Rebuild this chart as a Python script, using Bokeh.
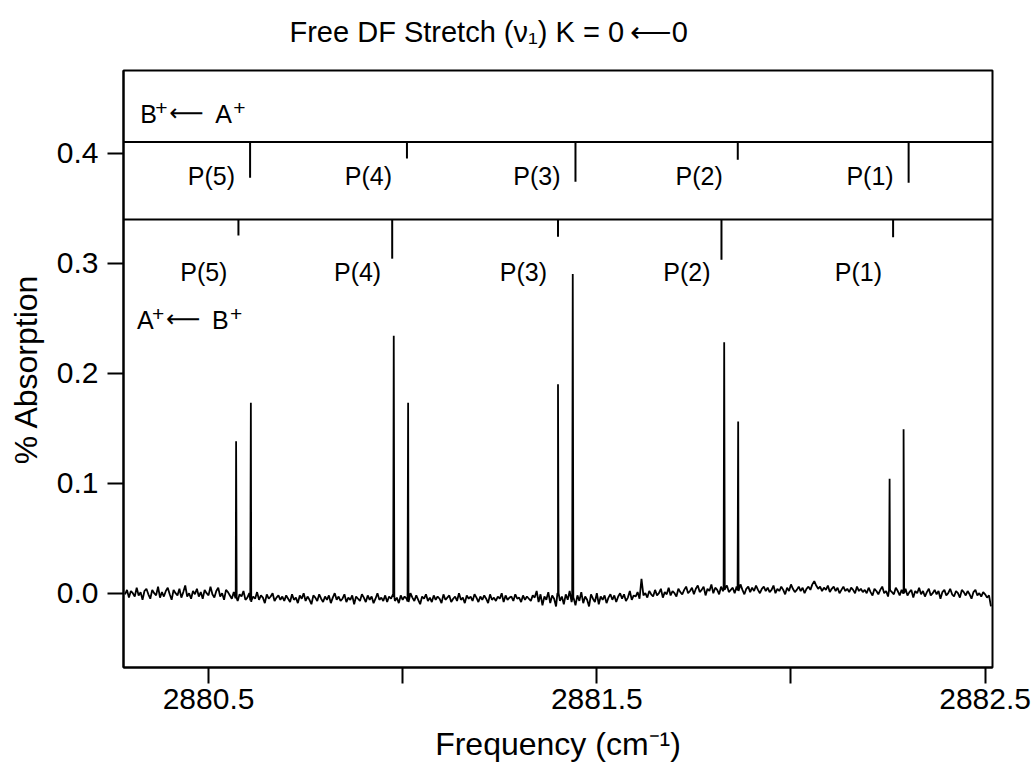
import numpy as np
from bokeh.plotting import figure
from bokeh.models import Label, Span, FixedTicker, Range1d, PrintfTickFormatter, Title
from bokeh.embed import file_html
from bokeh.resources import INLINE

# ---------------- data ----------------
branches = ["P(5)", "P(4)", "P(3)", "P(2)", "P(1)"]

# A+ <- B+ lines (lower member of each doublet), cm^-1 and % absorption
ab_freq = [2880.571, 2880.977, 2881.400, 2881.828, 2882.254]
ab_height = [0.138, 0.234, 0.190, 0.228, 0.104]
# B+ <- A+ lines (upper member of each doublet)
ba_freq = [2880.609, 2881.014, 2881.438, 2881.864, 2882.290]
ba_height = [0.173, 0.173, 0.290, 0.156, 0.149]

# predicted line positions (stick markers) and where each stick ends
ba_stick_freq = [2880.607, 2881.011, 2881.445, 2881.863, 2882.303]
ba_stick_end = [0.3775, 0.395, 0.374, 0.394, 0.373]
ab_stick_freq = [2880.577, 2880.973, 2881.400, 2881.821, 2882.263]
ab_stick_end = [0.325, 0.304, 0.324, 0.303, 0.3235]
panel_lines = [0.41, 0.3395]

# baseline of the scan, in thousandths of % absorption, sampled every 0.005 cm^-1
baseline_start = 2880.285
baseline_step = 0.005
baseline_milli = [
    -1, 3, -4, 2, 0, -3, 5, -2, 1, -6, 2, 4, -1, -5, 3, 0, -2, 6, -4, 1,
    -3, 2, 5, -1, -6, 3, 0, -2, 4, -4, 1, 7, -3, 0, -5, 2, -1, 4, -3, 1,
    -5, 3, 0, -2, 6, -1, -4, 2, 5, -3, 0, -6, 3, 1,
    -2, -5, 1, -4, -7, -1, -3, 2, -6, -4, 0, -8, -3, -5, 1, -6, -2, -4, -9, -1, -5, -3, 0, -7, -4, -2, -6,
    -3, -7, -2, -5, -8, -1, -6, -4, -9, -2, -5, 0, -7, -3, -6, -10, -2, -4, -7, -1,
    -5, -8, -3, -6, -2, -9, -4, 0, -6, -3, -7, -5, -1, -8, -4, -6, -2, -10, -3, -5,
    -7, -1, -4, -8, -2, -6, -3, -9, -5, 0, -6, -4, -7, -2, -8, -3, -5, -1, -7, -4,
    -9, -2, -6, -3, -5, -8, 0, -4, -7, -2, -6, -10, -3, -5, -1, -7, -4, -8, -2, -6,
    -3, -5, -9, -1, -6, -4, -2, -8, -5, -3, -7, 0, -6, -4, -9, -2, -5, -3, -7, -1,
    -4, -8, -3, -6, -2, -5, -9, -1, -6, -4, -7, -3, -5, 0, -8, -2, -6, -4, -3, -7,
    -1, -5, -4, -8, -2, -6, -3, -5, -7, -2,
    -4, 2, -8, -1, -11, -3, -6, 1, -9, -2, -5, -12, 0, -7, -3, -10, -1, -6, 2, -8,
    -4, -11, -2, -7, 1, -9, -3, -6, -12, -1, -5, -8, 0, -10, -3, -6, -2, -9, -4, -1,
    -6, -2, -8, -3, 0, -5, -1, -7, -4, 2, -6, -2, -3, 1, -5, 13, -2, 0, -4, 2,
    -1, -3, 3, -2, 0, 4, -4, 1, -1, 5, -2, 2, 0, -3, 4, 1, -1, 3, 6, 0,
    2, 5, -1, 4, 7, 1, 3, 6, -2, 4, 2, 8, 0, 5, 3, -1, 6, 2, 4, 7,
    1, 3, 5, 0, 6, 2, 8, 3, -1, 4, 6, 1, 5, 2, 7, 3, 0, 4, 6, 2,
    5, 1, 3, 7, 0, 4, 2, 6, 3, -1, 5, 2, 8, 4, 1, 3, 6, 2, 5, 0,
    4, 6, 3, 8, 11, 7, 4, 6, 2, 5, 3, 7, 1, 4, 6, 2, 5, 0, 3, 6,
    2, 4, 1, 5, 3, 0, 6, 2, 4, 1,
    3, 0, 5, 1, -2, 4, 2, -1, 3, 6, 0, 2, -3, 4, 1, -1, 5, 2, -2, 3,
    0, 4, -2, 1, 3, -4, 2, 0, 5, -1, 2, -3, 1, 4, -2, 0, 3, -1, 2, -5,
    1, 3, -2, 0, 4, -1, -3, 2, 0, -4, 3, 1, -2, 2, -1, -5, 1, 3, -2, 0,
    -3, 1, -1, -4, -2, -12,
]

x_ticks = [2880.5, 2881.5, 2882.5]
x_minor_ticks = [2881.0, 2882.0]
y_ticks = [0.0, 0.1, 0.2, 0.3, 0.4]

# ---------------- build trace ----------------
base_x = baseline_start + baseline_step * np.arange(len(baseline_milli))
base_y = np.array(baseline_milli) / 1000.0
half_w = 0.0015
px, py = [], []
for f, h in zip(ab_freq + ba_freq, ab_height + ba_height):
    foot = float(np.interp(f, base_x, base_y))
    px += [f - half_w, f, f + half_w]
    py += [foot, h, foot]
tx = np.concatenate([base_x, px])
ty = np.concatenate([base_y, py])
order = np.argsort(tx)
tx, ty = tx[order], ty[order]

FONT = "Liberation Sans"

p = figure(width=1032, height=771, output_backend="svg", toolbar_location=None,
           x_range=Range1d(2880.281, 2882.519), y_range=Range1d(-0.0675, 0.475),
           min_border_left=123, min_border_right=40, min_border_top=70, min_border_bottom=104)
p.grid.visible = False
p.outline_line_color = "black"
p.outline_line_width = 2
p.background_fill_color = "white"
p.border_fill_color = "white"

# spacer between frame and title (pushes the title upward)
p.add_layout(Title(text="\u00a0", text_font_size="8px", standoff=11), "above")

p.title.text = "Free DF Stretch (\u03bd\u2081) K = 0\u2009\u27f50"
p.title.align = "left"
p.title.offset = 166
p.title.standoff = 2
p.title.text_font = FONT
p.title.text_font_size = "29px"
p.title.text_font_style = "normal"
p.title.text_color = "black"

p.line(tx, ty, line_color="black", line_width=1.8)

for loc in panel_lines:
    p.add_layout(Span(location=loc, dimension="width", line_color="black", line_width=2))

p.segment(x0=ba_stick_freq, y0=[panel_lines[0]] * 5, x1=ba_stick_freq, y1=ba_stick_end,
          line_color="black", line_width=2)
p.segment(x0=ab_stick_freq, y0=[panel_lines[1]] * 5, x1=ab_stick_freq, y1=ab_stick_end,
          line_color="black", line_width=2)

for name, f in zip(branches, ba_stick_freq):
    p.add_layout(Label(x=f, y=0.3795, text=name, text_align="right", text_baseline="middle",
                       x_offset=-15, text_font=FONT, text_font_size="25px", text_color="black"))
for name, f in zip(branches, ab_stick_freq):
    p.add_layout(Label(x=f, y=0.2916, text=name, text_align="right", text_baseline="middle",
                       x_offset=-11, text_font=FONT, text_font_size="25px", text_color="black"))


def transition_label(x, y, upper, lower):
    # "upper+ <- lower+" with raised plus signs; y is the vertical centre of the capitals
    parts = [(upper, 0, 0, "25px"), ("+", 15, 6, "21px"), ("\u27f5", 29, 1, "24px"),
             (lower, 75, 0, "25px"), ("+", 93, 6, "21px")]
    for txt, dx, dy, size in parts:
        font = FONT if txt != "\u27f5" else "DejaVu Sans"
        p.add_layout(Label(x=x, y=y, text=txt, x_offset=dx, y_offset=dy, text_align="left",
                           text_baseline="middle", text_font=font, text_font_size=size,
                           text_color="black"))


transition_label(2880.324, 0.4359, "B", "A")
transition_label(2880.316, 0.2486, "A", "B")

xa = p.xaxis[0]
xa.ticker = FixedTicker(ticks=x_ticks, minor_ticks=x_minor_ticks)
xa.formatter = PrintfTickFormatter(format="%.1f")
ya = p.yaxis[0]
ya.ticker = FixedTicker(ticks=y_ticks, minor_ticks=[])
ya.formatter = PrintfTickFormatter(format="%.1f")

for ax in (xa, ya):
    ax.axis_line_color = "black"
    ax.axis_line_width = 2
    ax.major_tick_line_color = "black"
    ax.major_tick_line_width = 2
    ax.major_tick_in = 0
    ax.major_tick_out = 16
    ax.minor_tick_line_color = "black"
    ax.minor_tick_line_width = 2
    ax.minor_tick_in = 0
    ax.minor_tick_out = 16
    ax.major_label_text_font = FONT
    ax.major_label_text_font_size = "30px"
    ax.major_label_text_color = "black"
    ax.axis_label_text_font = FONT
    ax.axis_label_text_font_size = "32px"
    ax.axis_label_text_font_style = "normal"
    ax.axis_label_text_color = "black"

xa.axis_label = "Frequency (cm\u207b\u00b9)"
xa.major_label_standoff = 5
xa.axis_label_standoff = 14
ya.axis_label = "% Absorption"
ya.major_label_standoff = 9
ya.axis_label_standoff = 10

open("out.html", "w").write(file_html(p, INLINE))
